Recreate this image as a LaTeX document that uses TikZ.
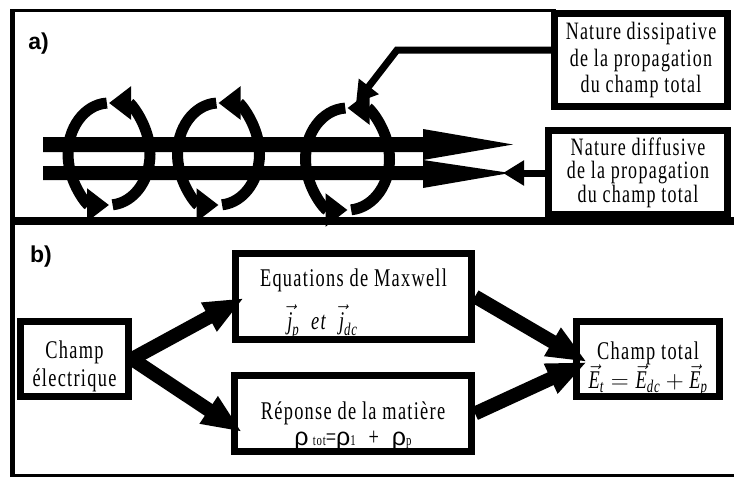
\documentclass[tikz,border=0pt]{standalone}
\usepackage{amsmath}
\usepackage{fontspec}
\setmainfont{Liberation Serif}
\newfontfamily\boxfont{Liberation Serif}[FakeStretch=0.72,LetterSpace=5]
\newfontfamily\tagfont{Liberation Sans}
\newfontfamily\rhofont{Liberation Sans}
\usetikzlibrary{arrows.meta,calc}
\newcommand{\lowsub}[1]{{\fontsize{15}{15}\selectfont #1}}
\newcommand{\rhochar}{{\rhofont\fontsize{25}{25}\selectfont ρ}}
\begin{document}
\begin{tikzpicture}[x=1pt,y=-1pt,
  tag/.style={font=\tagfont\bfseries\fontsize{23}{23}\selectfont, inner sep=0pt},
  box/.style={draw, line width=7pt, inner sep=0pt, align=center},
  toptext/.style={font=\boxfont\fontsize{25}{26.5}\selectfont},
  bottext/.style={font=\boxfont\fontsize{25.5}{28}\selectfont},
  pointer/.style={line width=7pt, -{Triangle[length=21pt,width=24pt]}},
  swirlarc/.style={line width=11pt, -{Triangle[length=22pt,width=32pt]}},
  flow/.style={line width=14pt, -{Triangle[length=40pt,width=30pt]}},
  pics/swirl/.style args={#1/#2}{code={
    \draw[swirlarc] (-93:#1 and #2) arc[start angle=-93,end angle=-270,x radius=#1,y radius=#2];
    \draw[swirlarc] (-275:#1 and #2) arc[start angle=-275,end angle=-450,x radius=#1,y radius=#2];
  }}
]
\useasboundingbox (0,0) rectangle (734,477);

% outer frame and the rule between the two panels
\draw[line width=5.5pt] (12.5,9) -- (12.5,476.5);
\draw[line width=3.5pt] (10,10.5) -- (556,10.5);
\draw[line width=7.5pt] (10,221) -- (734,221);
\draw[line width=3pt] (10,475) -- (734,475);

% panel tags
\node[tag] (ta) at (38.5,44) {a)};
\node[tag] (tb) at (41,256.5) {b)};

% ---------- panel a ----------
\node[box, toptext, minimum width=173pt, minimum height=93pt] (b1) at (641,60)
  {Nature dissipative\\de la propagation\\du champ total};
\node[box, font=\boxfont\fontsize{25}{23.5}\selectfont,
      minimum width=179pt, minimum height=84pt] (b2) at (638,172.5)
  {Nature diffusive\\de la propagation\\du champ total};

% the two propagation arrows
\fill (43,137) -- (423,137) -- (423,129) -- (513,144.5) -- (423,160) -- (423,152) -- (43,152) -- cycle;
\fill (43,166) -- (423,166) -- (423,160) -- (510,173) -- (423,188) -- (423,180) -- (43,180) -- cycle;

% circulating arrows round the propagation axis
\pic at (109,154) {swirl=41/51};
\pic at (218.5,154) {swirl=41/51};
\pic at (347.5,159) {swirl=42/51};

% pointers from the two labels
\coordinate (p1bend) at (397,50);
\coordinate (p1tip) at (356,103);
\draw[pointer] ([yshift=10pt]b1.west) -- (p1bend) -- (p1tip);
\coordinate (p2tip) at (503,173);
\draw[pointer] ([yshift=-0.5pt]b2.west) -- (p2tip);

% ---------- panel b ----------
\node[box, bottext, minimum width=108pt, minimum height=75pt] (ce) at (74.5,359)
  {\rule{0pt}{32pt}Champ\\électrique};
\node[box, bottext, minimum width=236pt, minimum height=76pt] (mx) at (353.5,296.5)
  {\rule{0pt}{33pt}Equations de Maxwell\\[12pt]
   $\vec{\textit{j}}_{\textit{p}}$\ \ \textit{et}\ \ $\vec{\textit{j}}_{\textit{dc}}$\hspace*{62pt}};
\node[box, bottext, minimum width=237pt, minimum height=68pt] (rp) at (353,413.5)
  {\rule{0pt}{44pt}Réponse de la matière\\[-2pt]
   \rhochar\,\lowsub{tot}=\rhochar\lowsub{1}\; + \;\rhochar\lowsub{p}};
\node[box, bottext, minimum width=143pt, minimum height=73pt] (ct) at (648,359)
  {\rule{0pt}{38pt}Champ total\\[-1pt]
   $\vec{\textit{E}}_{\textit{t}} = \vec{\textit{E}}_{\textit{dc}} + \vec{\textit{E}}_{\textit{p}}$};

\draw[flow] (ce.east) -- ($(mx.west)+(12,1.5)$);
\draw[flow] (ce.east) -- ($(rp.west)+(11,18.5)$);
\draw[flow] (mx.east) -- ($(ct.west)+(14,3)$);
\draw[flow] (rp.east) -- ($(ct.west)+(14,3)$);
\end{tikzpicture}
\end{document}
